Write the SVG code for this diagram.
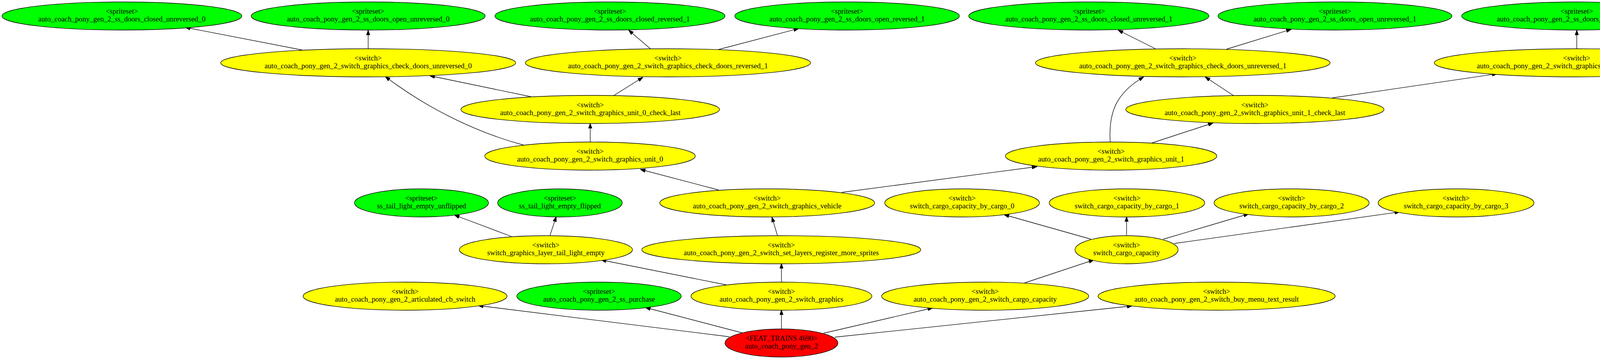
<svg xmlns="http://www.w3.org/2000/svg" width="4936" height="920" viewBox="0 0 4936 920">
<style>
.n ellipse{stroke:#000;stroke-width:1.33}
.g ellipse{fill:#00ff00}
.y ellipse{fill:#ffff00}
.r ellipse{fill:#ff0000}
text{font-family:"Liberation Serif","Times New Roman",serif;font-size:18.67px;text-anchor:middle;fill:#000}
#edges path{fill:none;stroke:#000;stroke-width:1.33;marker-end:url(#ah)}
</style>
<defs>
<marker id="ah" viewBox="0 0 13.3 9.4" refX="13.3" refY="4.7" markerWidth="13.3" markerHeight="9.4" markerUnits="userSpaceOnUse" orient="auto">
<path d="M0,0 L13.3,4.7 L0,9.4 z" fill="#000" stroke="#000" stroke-width="1"/>
</marker>
</defs>
<rect width="4936" height="920" fill="#fff"/>
<g id="edges">
<path d="M773,128 L474,70"/>
<path d="M942.5,125 L942.5,77"/>
<path d="M1665,125 L1609,77"/>
<path d="M1839,127 L2045,73"/>
<path d="M2958,125 L2862,77"/>
<path d="M3140,126 L3306,75"/>
<path d="M4036.5,125 L4036.5,77"/>
<path d="M4200,128 L4491,71"/>
<path d="M1360,248 L1100,194"/>
<path d="M1571,245 L1646,198"/>
<path d="M3158,245 L3085,197"/>
<path d="M3410,251 L3833,189"/>
<path d="M1511,365 L1511,316"/>
<path d="M1341,372 C1240,345 1110,290 986,196"/>
<path d="M2842,364 C2838,290 2855,240 2928,197"/>
<path d="M2947,367 L3106,315"/>
<path d="M1840,487 L1639,434"/>
<path d="M2155,493 L2655,427"/>
<path d="M1309,606 L1163,551"/>
<path d="M1408,603 L1424,555"/>
<path d="M1990,603 L1976,556"/>
<path d="M1859,730 L1538.5,666"/>
<path d="M2000.5,723 L2000.5,675"/>
<path d="M2793,613 L2570,550"/>
<path d="M2884,603 L2884,555"/>
<path d="M2978,613 L3197,548"/>
<path d="M3006,624 L3583.5,543"/>
<path d="M2623,725 L2800.5,666"/>
<path d="M1867,863 L1224,783"/>
<path d="M1900,853 L1652,788"/>
<path d="M2000.5,843 L2000.5,794"/>
<path d="M2108,854 L2388,789"/>
<path d="M2137,864 L2898.5,784"/>
</g>
<g id="n_cu0" class="n g"><ellipse cx="312" cy="41" rx="307" ry="36"/><text x="312" y="35">&lt;spriteset&gt;</text><text x="312" y="55">auto_coach_pony_gen_2_ss_doors_closed_unreversed_0</text></g>
<g id="n_ou0" class="n g"><ellipse cx="942.5" cy="41" rx="299.5" ry="36"/><text x="942.5" y="35">&lt;spriteset&gt;</text><text x="942.5" y="55">auto_coach_pony_gen_2_ss_doors_open_unreversed_0</text></g>
<g id="n_cr1" class="n g"><ellipse cx="1561.5" cy="41" rx="294.5" ry="36"/><text x="1561.5" y="35">&lt;spriteset&gt;</text><text x="1561.5" y="55">auto_coach_pony_gen_2_ss_doors_closed_reversed_1</text></g>
<g id="n_or1" class="n g"><ellipse cx="2168.5" cy="41" rx="287.5" ry="36"/><text x="2168.5" y="35">&lt;spriteset&gt;</text><text x="2168.5" y="55">auto_coach_pony_gen_2_ss_doors_open_reversed_1</text></g>
<g id="n_cu1" class="n g"><ellipse cx="2787.5" cy="41" rx="307.5" ry="36"/><text x="2787.5" y="35">&lt;spriteset&gt;</text><text x="2787.5" y="55">auto_coach_pony_gen_2_ss_doors_closed_unreversed_1</text></g>
<g id="n_ou1" class="n g"><ellipse cx="3417.5" cy="41" rx="299.5" ry="36"/><text x="3417.5" y="35">&lt;spriteset&gt;</text><text x="3417.5" y="55">auto_coach_pony_gen_2_ss_doors_open_unreversed_1</text></g>
<g id="n_cr0" class="n g"><ellipse cx="4036.5" cy="41" rx="294.5" ry="36"/><text x="4036.5" y="35">&lt;spriteset&gt;</text><text x="4036.5" y="55">auto_coach_pony_gen_2_ss_doors_closed_reversed_0</text></g>
<g id="n_or0" class="n g"><ellipse cx="4643" cy="41" rx="288" ry="36"/><text x="4643" y="35">&lt;spriteset&gt;</text><text x="4643" y="55">auto_coach_pony_gen_2_ss_doors_open_reversed_0</text></g>
<g id="n_cdu0" class="n y"><ellipse cx="942.5" cy="161" rx="377.5" ry="36"/><text x="942.5" y="155">&lt;switch&gt;</text><text x="942.5" y="175">auto_coach_pony_gen_2_switch_graphics_check_doors_unreversed_0</text></g>
<g id="n_cdr1" class="n y"><ellipse cx="1710" cy="161" rx="365" ry="36"/><text x="1710" y="155">&lt;switch&gt;</text><text x="1710" y="175">auto_coach_pony_gen_2_switch_graphics_check_doors_reversed_1</text></g>
<g id="n_cdu1" class="n y"><ellipse cx="3028" cy="161" rx="377" ry="36"/><text x="3028" y="155">&lt;switch&gt;</text><text x="3028" y="175">auto_coach_pony_gen_2_switch_graphics_check_doors_unreversed_1</text></g>
<g id="n_cdr0" class="n y"><ellipse cx="4036.5" cy="161" rx="364.5" ry="36"/><text x="4036.5" y="155">&lt;switch&gt;</text><text x="4036.5" y="175">auto_coach_pony_gen_2_switch_graphics_check_doors_reversed_0</text></g>
<g id="n_u0cl" class="n y"><ellipse cx="1511" cy="280.5" rx="331" ry="36"/><text x="1511" y="274.5">&lt;switch&gt;</text><text x="1511" y="294.5">auto_coach_pony_gen_2_switch_graphics_unit_0_check_last</text></g>
<g id="n_u1cl" class="n y"><ellipse cx="3212.5" cy="280.5" rx="330.5" ry="36"/><text x="3212.5" y="274.5">&lt;switch&gt;</text><text x="3212.5" y="294.5">auto_coach_pony_gen_2_switch_graphics_unit_1_check_last</text></g>
<g id="n_u0" class="n y"><ellipse cx="1510.5" cy="400" rx="269.5" ry="36"/><text x="1510.5" y="394">&lt;switch&gt;</text><text x="1510.5" y="414">auto_coach_pony_gen_2_switch_graphics_unit_0</text></g>
<g id="n_u1" class="n y"><ellipse cx="2844.5" cy="400" rx="270.5" ry="36"/><text x="2844.5" y="394">&lt;switch&gt;</text><text x="2844.5" y="414">auto_coach_pony_gen_2_switch_graphics_unit_1</text></g>
<g id="n_tlu" class="n g"><ellipse cx="1079" cy="520" rx="171.5" ry="36"/><text x="1079" y="514">&lt;spriteset&gt;</text><text x="1079" y="534">ss_tail_light_empty_unflipped</text></g>
<g id="n_tlf" class="n g"><ellipse cx="1433.5" cy="520" rx="159.5" ry="36"/><text x="1433.5" y="514">&lt;spriteset&gt;</text><text x="1433.5" y="534">ss_tail_light_empty_flipped</text></g>
<g id="n_veh" class="n y"><ellipse cx="1964" cy="520" rx="275" ry="36"/><text x="1964" y="514">&lt;switch&gt;</text><text x="1964" y="534">auto_coach_pony_gen_2_switch_graphics_vehicle</text></g>
<g id="n_c0" class="n y"><ellipse cx="2463" cy="520" rx="198" ry="36"/><text x="2463" y="514">&lt;switch&gt;</text><text x="2463" y="534">switch_cargo_capacity_by_cargo_0</text></g>
<g id="n_c1" class="n y"><ellipse cx="2885" cy="520" rx="199" ry="36"/><text x="2885" y="514">&lt;switch&gt;</text><text x="2885" y="534">switch_cargo_capacity_by_cargo_1</text></g>
<g id="n_c2" class="n y"><ellipse cx="3306.5" cy="520" rx="198.5" ry="36"/><text x="3306.5" y="514">&lt;switch&gt;</text><text x="3306.5" y="534">switch_cargo_capacity_by_cargo_2</text></g>
<g id="n_c3" class="n y"><ellipse cx="3727.5" cy="520" rx="199.5" ry="36"/><text x="3727.5" y="514">&lt;switch&gt;</text><text x="3727.5" y="534">switch_cargo_capacity_by_cargo_3</text></g>
<g id="n_tl" class="n y"><ellipse cx="1397.5" cy="640" rx="221.5" ry="36"/><text x="1397.5" y="634">&lt;switch&gt;</text><text x="1397.5" y="654">switch_graphics_layer_tail_light_empty</text></g>
<g id="n_slr" class="n y"><ellipse cx="2000" cy="640" rx="357" ry="36"/><text x="2000" y="634">&lt;switch&gt;</text><text x="2000" y="654">auto_coach_pony_gen_2_switch_set_layers_register_more_sprites</text></g>
<g id="n_scc" class="n y"><ellipse cx="2884" cy="640" rx="132" ry="36"/><text x="2884" y="634">&lt;switch&gt;</text><text x="2884" y="654">switch_cargo_capacity</text></g>
<g id="n_art" class="n y"><ellipse cx="1037" cy="759" rx="261" ry="36"/><text x="1037" y="753">&lt;switch&gt;</text><text x="1037" y="773">auto_coach_pony_gen_2_articulated_cb_switch</text></g>
<g id="n_pur" class="n g"><ellipse cx="1533.5" cy="759" rx="210.5" ry="36"/><text x="1533.5" y="753">&lt;spriteset&gt;</text><text x="1533.5" y="773">auto_coach_pony_gen_2_ss_purchase</text></g>
<g id="n_gr" class="n y"><ellipse cx="2000.5" cy="759" rx="231.5" ry="36"/><text x="2000.5" y="753">&lt;switch&gt;</text><text x="2000.5" y="773">auto_coach_pony_gen_2_switch_graphics</text></g>
<g id="n_acc" class="n y"><ellipse cx="2522" cy="759" rx="265" ry="36"/><text x="2522" y="753">&lt;switch&gt;</text><text x="2522" y="773">auto_coach_pony_gen_2_switch_cargo_capacity</text></g>
<g id="n_buy" class="n y"><ellipse cx="3114.5" cy="759" rx="303.5" ry="36"/><text x="3114.5" y="753">&lt;switch&gt;</text><text x="3114.5" y="773">auto_coach_pony_gen_2_switch_buy_menu_text_result</text></g>
<g id="n_feat" class="n r"><ellipse cx="2000.5" cy="879" rx="144.5" ry="36"/><text x="2000.5" y="873">&lt;FEAT_TRAINS 4690&gt;</text><text x="2000.5" y="893">auto_coach_pony_gen_2</text></g>
</svg>
